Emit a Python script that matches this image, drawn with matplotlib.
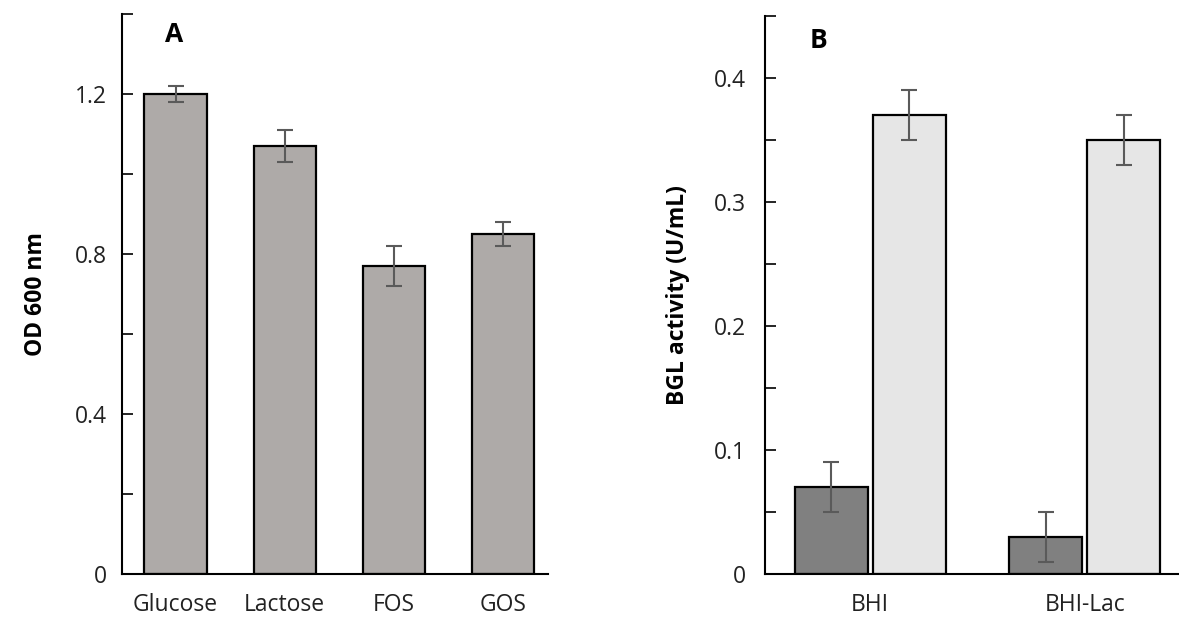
import matplotlib.pyplot as plt
import numpy as np

plt.rcParams['font.family'] = ['Open Sans', 'DejaVu Sans']

# panneau A : croissance sur différents sucres
sugars = ["Glucose", "Lactose", "FOS", "GOS"]
od600 = [1.20, 1.07, 0.77, 0.85]
od600_err = [0.02, 0.04, 0.05, 0.03]

# panneau B : activité BGL
media = ["BHI", "BHI-Lac"]
bgl_dark = [0.07, 0.03]
bgl_dark_err = [0.02, 0.02]
bgl_light = [0.37, 0.35]
bgl_light_err = [0.02, 0.02]

fig = plt.figure(figsize=(11.79, 6.17), dpi=100)
axA = fig.add_axes([0.1035, 0.0697, 0.3613, 0.9076])
axB = fig.add_axes([0.6489, 0.0697, 0.3511, 0.9044])

err_kw = dict(ecolor="#5a5a5a", elinewidth=1.5, capsize=6, capthick=1.5)

x = np.arange(len(sugars))
axA.bar(x, od600, width=0.57, color="#aeaaa8", edgecolor="black", linewidth=1.6,
        yerr=od600_err, error_kw=err_kw)
axA.set_xlim(-0.49, 3.41)
axA.set_ylim(0, 1.4)
axA.set_yticks([0, 0.4, 0.8, 1.2])
axA.set_yticklabels(["0", "0.4", "0.8", "1.2"])
axA.set_yticks([0.2, 0.6, 1.0, 1.4], minor=True)
axA.set_xticks(x)
axA.set_xticklabels(sugars)
axA.set_ylabel("OD 600 nm", fontweight="bold", fontsize=16.5, labelpad=19)
axA.text(174 / 1179, 1 - 34 / 617, "A", transform=fig.transFigure, fontsize=19,
         fontweight="bold", ha="center", va="center")

xb = np.arange(len(media))
w = 0.34
axB.bar(xb - w / 2 - 0.012, bgl_dark, width=w, color="#808080", edgecolor="black",
        linewidth=1.6, yerr=bgl_dark_err, error_kw=err_kw)
axB.bar(xb + w / 2 + 0.012, bgl_light, width=w, color="#e6e6e6", edgecolor="black",
        linewidth=1.6, yerr=bgl_light_err, error_kw=err_kw)
axB.set_xlim(-0.49, 1.44)
axB.set_ylim(0, 0.45)
axB.set_yticks([0, 0.1, 0.2, 0.3, 0.4])
axB.set_yticklabels(["0", "0.1", "0.2", "0.3", "0.4"])
axB.set_yticks([0.05, 0.15, 0.25, 0.35, 0.45], minor=True)
axB.set_xticks(xb)
axB.set_xticklabels(media)
axB.set_ylabel("BGL activity (U/mL)", fontweight="bold", fontsize=16.5, labelpad=17)
axB.text(818 / 1179, 1 - 40 / 617, "B", transform=fig.transFigure, fontsize=19,
         fontweight="bold", ha="center", va="center")

for ax, p in ((axA, 11), (axB, 14)):
    ax.spines["top"].set_visible(False)
    ax.spines["right"].set_visible(False)
    ax.spines["left"].set_linewidth(1.5)
    ax.spines["bottom"].set_linewidth(1.5)
    ax.tick_params(axis="y", which="both", direction="in", length=8, width=1.2,
                   labelsize=16.5, pad=p, labelcolor="#222222")
    ax.tick_params(axis="x", length=0, labelsize=16.5, pad=14, labelcolor="#222222")

plt.savefig("out.png", dpi=100)
